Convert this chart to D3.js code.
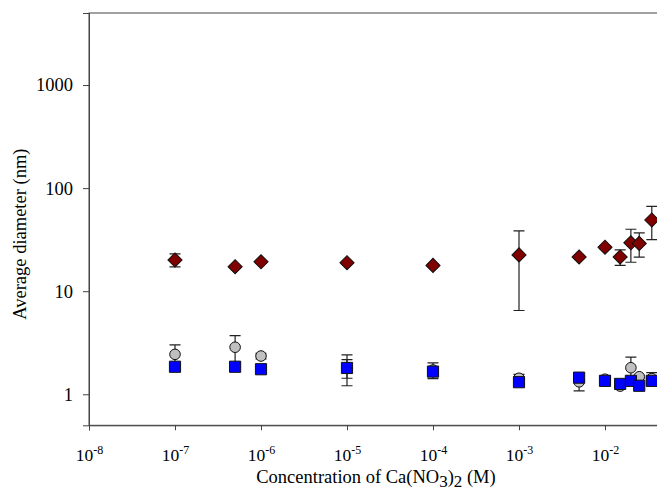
<!DOCTYPE html>
<html>
<head>
<meta charset="utf-8">
<script src="https://cdn.jsdelivr.net/npm/d3@7"></script>
<style>
  body { margin: 0; background: #fff; }
  svg text { font-family: 'Liberation Serif', 'Times New Roman', Times, serif; }
</style>
</head>
<body>
<div id="chart"></div>
<script>
// concentration of Ca(NO3)2 (M)
const conc = [1e-7, 5e-7, 1e-6, 1e-5, 1e-4, 1e-3, 5e-3, 1e-2, 1.5e-2, 2e-2, 2.5e-2, 3.5e-2];

// diamonds (dark red)
const diamondMean = [20.1, 17.3, 19.3, 18.9, 17.8, 22.5, 21.5, 26.7, 21.5, 29.5, 29.1, 49.1];
const diamondErr  = [2.9, 0.4, 0.5, 0.5, 0.5, 16, 0.4, 1, 3.7, 10.4, 7.7, 17.5];

// circles (grey)
const circleMean = [2.44, 2.86, 2.35, 1.81, 1.72, 1.43, 1.32, 1.40, 1.20, 1.81, 1.48, 1.42];
const circleErr  = [0.57, 0.84, 0.15, 0.60, 0.30, 0.13, 0.24, 0.12, 0.05, 0.48, 0.05, 0.20];

// squares (blue)
const squareMean = [1.85, 1.85, 1.75, 1.80, 1.66, 1.31, 1.45, 1.35, 1.26, 1.35, 1.21, 1.35];
const squareErr  = [0.05, 0.05, 0.05, 0.37, 0.05, 0.05, 0.05, 0.05, 0.05, 0.05, 0.05, 0.05];

const yTicks = [1, 10, 100, 1000];
const xTicks = [-8, -7, -6, -5, -4, -3, -2];

const width = 657, height = 493;
const margin = { top: 13, left: 89, bottom: 68 };

const x = d3.scaleLog()
    .domain([1e-8, 1e-1])
    .range([margin.left, margin.left + 86 * 7]);

const y = d3.scaleLog()
    .domain([0.5, 5000])
    .range([height - margin.bottom + 0.3, margin.top]);

const svg = d3.select('#chart').append('svg')
    .attr('width', width)
    .attr('height', height)
    .attr('font-family', "'Liberation Serif', serif");

const axisColor = '#444';

// frame (right side falls outside the window)
svg.append('rect')
    .attr('x', x(1e-8))
    .attr('y', y(5000))
    .attr('width', x(1e-1) + 40 - x(1e-8))
    .attr('height', y(0.5) - y(5000))
    .attr('fill', 'none')
    .attr('stroke', axisColor)
    .attr('stroke-width', 1);

// axes

const yAxis = d3.axisLeft(y)
    .tickValues(yTicks)
    .tickFormat(d3.format('d'))
    .tickSize(6)
    .tickPadding(10);

svg.append('g')
    .attr('transform', `translate(${x(1e-8)},0)`)
    .call(yAxis)
    .attr('font-family', null)
    .call(g => g.select('.domain').attr('stroke', axisColor))
    .call(g => g.selectAll('.tick line').attr('stroke', axisColor))
    .call(g => g.selectAll('.tick text')
        .attr('font-size', 18.5)
        .attr('fill', '#000'));

const xAxis = d3.axisBottom(x)
    .tickValues(xTicks.map(e => Math.pow(10, e)))
    .tickFormat('')
    .tickSize(5);

const gx = svg.append('g')
    .attr('transform', `translate(0,${y(0.5)})`)
    .call(xAxis)
    .attr('font-family', null)
    .call(g => g.select('.domain').attr('stroke', axisColor))
    .call(g => g.selectAll('.tick line').attr('stroke', axisColor));

gx.selectAll('.tick').each(function(d) {
  const t = d3.select(this).append('text')
      .attr('y', 36)
      .attr('fill', '#000')
      .attr('font-size', 17.5)
      .attr('text-anchor', 'middle');
  t.append('tspan').text('10');
  t.append('tspan')
      .attr('dy', -7)
      .attr('font-size', 12)
      .text(Math.round(Math.log10(d)));
});

// axis titles

svg.append('text')
    .attr('transform', `translate(26,${(y(0.5) + y(5000)) / 2 + 15}) rotate(-90)`)
    .attr('text-anchor', 'middle')
    .attr('font-size', 18.5)
    .text('Average diameter (nm)');

const xt = svg.append('text')
    .attr('x', 376)
    .attr('y', 483)
    .attr('text-anchor', 'middle')
    .attr('font-size', 18.5);
xt.append('tspan').text('Concentration of Ca(NO');
xt.append('tspan').attr('dy', 4).attr('font-size', 17).text('3');
xt.append('tspan').attr('dy', -4).text(')');
xt.append('tspan').attr('dy', 4).attr('font-size', 17).text('2');
xt.append('tspan').attr('dy', -4).text(' (M)');

// series

const plot = svg.append('g');

function errorBars(mean, err) {
  const rows = conc.map((c, i) => ({ c, m: mean[i], e: err[i] }));
  const g = plot.append('g')
      .attr('stroke', '#222')
      .attr('stroke-width', 1.2)
      .attr('fill', 'none');
  g.selectAll('path')
    .data(rows)
    .join('path')
      .attr('d', d => {
        const cx = x(d.c), y1 = y(d.m + d.e), y0 = y(Math.max(d.m - d.e, 0.51));
        return `M${cx - 5.5},${y1}H${cx + 5.5}M${cx},${y1}V${y0}M${cx - 5.5},${y0}H${cx + 5.5}`;
      });
}

function markers(mean, type, size, fill, rotate) {
  const rows = conc.map((c, i) => ({ c, m: mean[i] }));
  plot.append('g')
    .selectAll('path')
    .data(rows)
    .join('path')
      .attr('transform', d => `translate(${x(d.c)},${y(d.m)}) rotate(${rotate})`)
      .attr('d', d3.symbol().type(type).size(size))
      .attr('fill', fill)
      .attr('stroke', '#111')
      .attr('stroke-width', 1);
}

errorBars(circleMean, circleErr);
markers(circleMean, d3.symbolCircle, 88, '#c0c0c0', 0);

errorBars(squareMean, squareErr);
markers(squareMean, d3.symbolSquare, 125, '#0000ff', 0);

errorBars(diamondMean, diamondErr);
markers(diamondMean, d3.symbolSquare, 100, '#800000', 45);
</script>
</body>
</html>
